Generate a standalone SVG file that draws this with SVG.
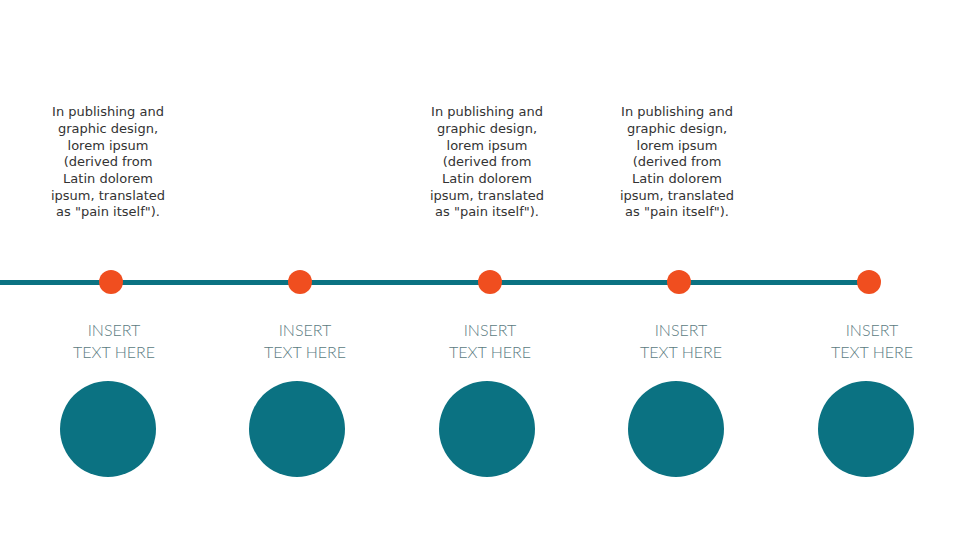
<svg xmlns="http://www.w3.org/2000/svg" width="960" height="540" viewBox="0 0 960 540">
<style>
.p{font-family:"DejaVu Sans","Liberation Sans",sans-serif;font-size:13px;fill:#333;text-anchor:middle}
.l{font-family:"Lato","Liberation Sans",sans-serif;font-weight:300;font-size:16px;fill:#5b7b82;text-anchor:middle}
.dot{fill:#f04e1f}
.big{fill:#0b7282}
</style>
<rect width="960" height="540" fill="#fff"/>
<g id="connectors">
<line x1="0" y1="282.5" x2="866" y2="282.5" stroke="#0b7282" stroke-width="5"/>
</g>
<g id="text1">
<text class="p" x="108" y="116">In publishing and</text>
<text class="p" x="108" y="133">graphic design,</text>
<text class="p" x="108" y="149.5">lorem ipsum</text>
<text class="p" x="108" y="166">(derived from</text>
<text class="p" x="108" y="183">Latin dolorem</text>
<text class="p" x="108" y="199.5">ipsum, translated</text>
<text class="p" x="108" y="216">as "pain itself").</text>
</g>
<g id="text3">
<text class="p" x="487" y="116">In publishing and</text>
<text class="p" x="487" y="133">graphic design,</text>
<text class="p" x="487" y="149.5">lorem ipsum</text>
<text class="p" x="487" y="166">(derived from</text>
<text class="p" x="487" y="183">Latin dolorem</text>
<text class="p" x="487" y="199.5">ipsum, translated</text>
<text class="p" x="487" y="216">as "pain itself").</text>
</g>
<g id="text4">
<text class="p" x="677" y="116">In publishing and</text>
<text class="p" x="677" y="133">graphic design,</text>
<text class="p" x="677" y="149.5">lorem ipsum</text>
<text class="p" x="677" y="166">(derived from</text>
<text class="p" x="677" y="183">Latin dolorem</text>
<text class="p" x="677" y="199.5">ipsum, translated</text>
<text class="p" x="677" y="216">as "pain itself").</text>
</g>
<g id="node1">
<circle class="dot" cx="111" cy="282" r="12"/>
<text class="l" x="114" y="336">INSERT</text>
<text class="l" x="114" y="358">TEXT HERE</text>
<circle class="big" cx="108" cy="429" r="48"/>
</g>
<g id="node2">
<circle class="dot" cx="300" cy="282" r="12"/>
<text class="l" x="305" y="336">INSERT</text>
<text class="l" x="305" y="358">TEXT HERE</text>
<circle class="big" cx="297" cy="429" r="48"/>
</g>
<g id="node3">
<circle class="dot" cx="490" cy="282" r="12"/>
<text class="l" x="490" y="336">INSERT</text>
<text class="l" x="490" y="358">TEXT HERE</text>
<circle class="big" cx="487" cy="429" r="48"/>
</g>
<g id="node4">
<circle class="dot" cx="679" cy="282" r="12"/>
<text class="l" x="681" y="336">INSERT</text>
<text class="l" x="681" y="358">TEXT HERE</text>
<circle class="big" cx="676" cy="429" r="48"/>
</g>
<g id="node5">
<circle class="dot" cx="869" cy="282" r="12"/>
<text class="l" x="872" y="336">INSERT</text>
<text class="l" x="872" y="358">TEXT HERE</text>
<circle class="big" cx="866" cy="429" r="48"/>
</g>
</svg>
